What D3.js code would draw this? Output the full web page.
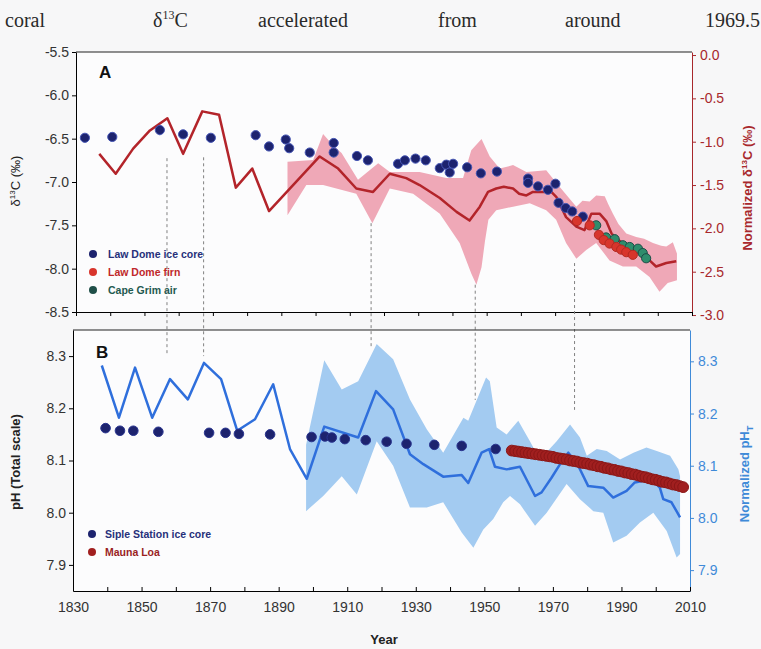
<!DOCTYPE html>
<html>
<head>
<meta charset="utf-8">
<script src="https://cdn.jsdelivr.net/npm/d3@7"></script>
<style>
  html, body { margin: 0; padding: 0; background: #f7f7f8; }
  svg { display: block; font-family: Arial, "Liberation Sans", sans-serif; }
</style>
</head>
<body>
<svg id="chart" width="761" height="649"></svg>
<script>
// ---- data ----
// Panel A, left axis (delta13C, permil)
const lawDomeIce = [
  [1832.6, -6.49], [1840.6, -6.48], [1854.5, -6.40], [1861.3, -6.45], [1869.4, -6.49],
  [1882.5, -6.46], [1886.4, -6.59], [1891.3, -6.51], [1892.3, -6.61], [1898.3, -6.66],
  [1905.3, -6.55], [1905.3, -6.66], [1912.1, -6.70], [1915.3, -6.75], [1924.1, -6.79],
  [1926.1, -6.75], [1929.2, -6.73], [1932.2, -6.75], [1936.3, -6.84], [1938.2, -6.80],
  [1939.2, -6.89], [1940.2, -6.79], [1944.3, -6.83], [1948.3, -6.90], [1953.0, -6.88],
  [1962.1, -6.96], [1962.1, -7.01], [1965.0, -7.05], [1967.9, -7.09], [1970.1, -7.02],
  [1971.0, -7.24], [1973.1, -7.30], [1975.0, -7.34], [1978.1, -7.40]
];
const lawDomeFirn = [
  [1976.4, -7.45], [1980.1, -7.50], [1982.8, -7.61], [1984.2, -7.67], [1985.9, -7.71],
  [1987.9, -7.75], [1989.3, -7.78], [1990.8, -7.81], [1992.7, -7.84]
];
const capeGrim = [
  [1982.0, -7.50], [1984.9, -7.64], [1987.4, -7.66], [1989.8, -7.73], [1991.8, -7.75],
  [1994.2, -7.77], [1995.6, -7.82], [1996.6, -7.88]
];
// Panel A, right axis (normalized delta13C)
const normD13C = [
  [1836.8, -1.14], [1841.6, -1.37], [1846.7, -1.08], [1851.6, -0.87], [1856.7, -0.73],
  [1861.3, -1.14], [1866.9, -0.65], [1871.8, -0.69], [1876.7, -1.53], [1881.5, -1.31],
  [1886.4, -1.80], [1901.2, -1.17], [1906.6, -1.31], [1911.9, -1.54], [1916.8, -1.58],
  [1921.7, -1.37], [1926.5, -1.42], [1930.4, -1.50], [1936.3, -1.65], [1941.2, -1.81],
  [1945.0, -1.91], [1948.0, -1.75], [1950.4, -1.58], [1952.8, -1.54], [1955.0, -1.52],
  [1957.7, -1.54], [1959.5, -1.60], [1961.6, -1.62], [1963.5, -1.58], [1965.5, -1.58],
  [1968.9, -1.58], [1970.4, -1.64], [1973.2, -1.87], [1976.2, -1.98], [1978.6, -2.02],
  [1980.6, -1.83], [1983.0, -1.83], [1985.0, -1.92], [1986.5, -2.06], [1989.0, -2.15],
  [1992.0, -2.22], [1995.0, -2.30], [1997.6, -2.37], [1999.5, -2.44], [2002.5, -2.40],
  [2005.4, -2.38]
];
const normD13CTop = [
  [1891.8, -1.23], [1899.3, -1.21], [1902.2, -0.91], [1905.1, -1.04], [1907.6, -1.13],
  [1912.4, -1.44], [1918.3, -1.25], [1921.7, -1.35], [1930.4, -1.35], [1938.2, -1.42],
  [1943.1, -1.42], [1945.5, -1.10], [1948.5, -0.97], [1950.9, -1.17], [1953.8, -1.31],
  [1957.7, -1.27], [1961.6, -1.35], [1967.4, -1.33], [1971.3, -1.52], [1976.2, -1.75],
  [1978.0, -1.68], [1980.1, -1.69], [1982.0, -1.62], [1984.5, -1.63], [1985.5, -1.72],
  [1986.9, -1.83], [1988.5, -1.95], [1990.8, -2.06], [1993.7, -2.10], [1996.0, -2.12],
  [1998.6, -2.17], [2001.0, -2.20], [2002.5, -2.21], [2004.4, -2.16], [2005.6, -2.29]
];
const normD13CBottom = [
  [1891.8, -1.85], [1897.3, -1.50], [1902.2, -1.50], [1911.9, -1.60], [1916.6, -1.94],
  [1921.7, -1.54], [1928.5, -1.60], [1936.3, -1.83], [1942.1, -2.17], [1945.5, -2.52],
  [1947.0, -2.65], [1948.5, -2.45], [1949.5, -2.15], [1950.5, -1.90], [1952.8, -1.79],
  [1957.7, -1.75], [1962.6, -1.71], [1967.4, -1.79], [1970.3, -1.90], [1973.2, -2.17],
  [1976.2, -2.35], [1979.1, -2.25], [1982.0, -2.17], [1985.9, -2.37], [1989.8, -2.44],
  [1993.7, -2.44], [1997.6, -2.56], [2000.5, -2.73], [2002.9, -2.63], [2005.6, -2.60]
];

// Panel B, left axis (pH total scale)
const sipleIce = [
  [1839.5, 8.162], [1843.7, 8.157], [1847.6, 8.157], [1854.9, 8.155], [1869.7, 8.153],
  [1874.5, 8.153], [1878.4, 8.151], [1887.5, 8.150], [1899.6, 8.145], [1903.5, 8.146],
  [1905.5, 8.144], [1909.3, 8.141], [1915.4, 8.139], [1921.5, 8.136], [1927.3, 8.132],
  [1935.4, 8.130], [1943.4, 8.128], [1953.3, 8.122]
];
const maunaLoaYears = d3.range(1958, 2009);
const maunaLoaPH = [
  8.119, 8.118, 8.117, 8.116, 8.115, 8.114, 8.113, 8.112, 8.111, 8.110,
  8.109, 8.108, 8.107, 8.105, 8.104, 8.103, 8.102, 8.100, 8.099, 8.098,
  8.096, 8.095, 8.094, 8.092, 8.091, 8.089, 8.088, 8.086, 8.085, 8.083,
  8.082, 8.080, 8.079, 8.077, 8.076, 8.074, 8.073, 8.071, 8.069, 8.068,
  8.066, 8.064, 8.063, 8.061, 8.059, 8.058, 8.056, 8.054, 8.053, 8.051, 8.049
];
// Panel B, right axis (normalized pH_T)
const normPH = [
  [1838.4, 8.292], [1843.4, 8.192], [1848.1, 8.288], [1853.1, 8.192], [1858.3, 8.266],
  [1863.5, 8.227], [1868.2, 8.297], [1873.2, 8.266], [1877.9, 8.167], [1883.1, 8.189],
  [1888.4, 8.256], [1893.3, 8.132], [1898.2, 8.075], [1903.3, 8.175], [1913.2, 8.154],
  [1918.4, 8.243], [1923.4, 8.208], [1928.3, 8.122], [1932.2, 8.103], [1938.0, 8.079],
  [1943.4, 8.082], [1945.3, 8.067], [1949.2, 8.125], [1951.4, 8.132], [1953.1, 8.098],
  [1956.5, 8.093], [1960.4, 8.098], [1964.8, 8.042], [1966.7, 8.049], [1969.6, 8.077],
  [1972.1, 8.103], [1974.5, 8.125], [1977.4, 8.100], [1980.3, 8.061], [1984.7, 8.058],
  [1987.6, 8.039], [1991.5, 8.052], [1993.9, 8.068], [1996.4, 8.071], [1999.3, 8.071],
  [2001.2, 8.058], [2002.2, 8.036], [2004.6, 8.030], [2007.1, 8.001]
];
const normPHTop = [
  [1898.0, 8.140], [1903.3, 8.302], [1908.4, 8.246], [1913.2, 8.262], [1918.6, 8.333],
  [1923.4, 8.304], [1928.3, 8.227], [1933.2, 8.170], [1938.0, 8.125], [1943.9, 8.192],
  [1945.3, 8.186], [1950.5, 8.269], [1951.6, 8.262], [1953.6, 8.173], [1956.5, 8.160],
  [1959.9, 8.186], [1963.3, 8.147], [1966.2, 8.112], [1971.1, 8.147], [1975.0, 8.179],
  [1977.9, 8.154], [1979.9, 8.119], [1982.8, 8.132], [1985.7, 8.128], [1989.6, 8.112],
  [1993.5, 8.125], [1997.3, 8.135], [2000.3, 8.128], [2004.2, 8.119], [2006.6, 8.093],
  [2007.1, 8.080]
];
const normPHBottom = [
  [1898.0, 8.013], [1903.0, 8.042], [1908.4, 8.080], [1912.8, 8.045], [1918.6, 8.147],
  [1923.4, 8.100], [1928.3, 8.020], [1933.2, 8.020], [1938.0, 8.030], [1943.4, 7.972],
  [1946.8, 7.943], [1949.7, 7.978], [1952.6, 7.998], [1955.5, 8.030], [1957.5, 8.042],
  [1960.4, 8.026], [1964.8, 7.985], [1968.2, 8.010], [1974.0, 8.065], [1977.9, 8.036],
  [1981.8, 8.013], [1984.7, 8.010], [1987.6, 7.953], [1991.5, 7.966], [1995.4, 7.991],
  [1999.3, 8.010], [2003.2, 7.975], [2006.1, 7.924], [2007.1, 7.931]
];

// dashed guide lines: year, start (panel A right units), end (panel B left units)
const guideYears = [1857.0, 1867.7, 1916.6, 1947.0, 1976.0];
const guideFromA = [-1.19, -1.18, -1.94, -2.65, -2.40];
const guideToB = [8.300, 8.300, 8.317, 8.216, 8.197];

const yTicksA = [-5.5, -6.0, -6.5, -7.0, -7.5, -8.0, -8.5];
const yTicksAr = [0.0, -0.5, -1.0, -1.5, -2.0, -2.5, -3.0];
const yTicksB = [7.9, 8.0, 8.1, 8.2, 8.3];
const xLabelTicks = d3.range(1830, 2011, 20);
const xMinorTicks = d3.range(1830, 2011, 10);

const captionWords = ['coral', 'd13C', 'accelerated', 'from', 'around', '1969.5'];

(function () {
  const svg = d3.select('#chart');

  // scales
  const xA = d3.scaleLinear().domain([1830, 2010]).range([76, 692]);
  const yA = d3.scaleLinear().domain([-8.5, -5.5]).range([312, 52]);
  const yAr = d3.scaleLinear().domain([-2.965, 0.035]).range([312, 52]);
  const xB = d3.scaleLinear().domain([1830, 2010]).range([73, 690]);
  const yB = d3.scaleLinear().domain([7.85, 8.35]).range([591, 330]);
  const yBr = d3.scaleLinear().domain([7.86, 8.36]).range([591, 330]);

  const darkRed = '#a8282c', blue = '#3f8ad8';
  const fmt = d => d.toFixed(1);

  // caption line (justified words)
  const capX = [5, 153, 258, 438, 565, 705];
  const cap = svg.append('g').attr('font-family', '"Liberation Serif", "Times New Roman", serif')
    .attr('font-size', 20).attr('fill', '#2a2a2a');
  captionWords.forEach((w, i) => {
    const t = cap.append('text').attr('x', capX[i]).attr('y', 27);
    if (w === 'd13C') {
      t.append('tspan').text('δ');
      t.append('tspan').attr('font-size', 12).attr('dy', -8).text('13');
      t.append('tspan').attr('dy', 8).text('C');
    } else t.text(w);
  });

  // ---------- Panel A ----------
  const gA = svg.append('g');
  gA.append('rect').attr('x', xA(1830)).attr('y', yA(-5.5))
    .attr('width', xA(2010) - xA(1830)).attr('height', yA(-8.5) - yA(-5.5)).attr('fill', '#fcfcfd');

  const lineAr = d3.line().x(d => xA(d[0])).y(d => yAr(d[1]));
  gA.append('path')
    .attr('d', lineAr(normD13CTop.concat(normD13CBottom.slice().reverse())) + 'Z')
    .attr('fill', '#efa8b7');

  // dashed guides
  const guides = svg.append('g');
  guideYears.forEach((yr, i) => {
    guides.append('line')
      .attr('x1', (xA(yr) + xB(yr)) / 2).attr('x2', (xA(yr) + xB(yr)) / 2)
      .attr('y1', yAr(guideFromA[i])).attr('y2', yB(guideToB[i]))
      .attr('stroke', '#808080').attr('stroke-width', 1).attr('stroke-dasharray', '3,3');
  });

  gA.append('path').datum(normD13C).attr('d', lineAr)
    .attr('fill', 'none').attr('stroke', '#b3242a').attr('stroke-width', 2.5).attr('stroke-linejoin', 'round');

  function dots(g, data, xs, ys, r, fill, stroke) {
    g.append('g').selectAll('circle').data(data).join('circle')
      .attr('cx', d => xs(d[0])).attr('cy', d => ys(d[1])).attr('r', r)
      .attr('fill', fill).attr('stroke', stroke).attr('stroke-width', 1);
  }
  // small error bar on the 1854.5 ice-core sample
  gA.append('line').attr('x1', xA(1854.5)).attr('x2', xA(1854.5))
    .attr('y1', yA(-6.34)).attr('y2', yA(-6.46)).attr('stroke', '#4656b4').attr('stroke-width', 1.2);
  dots(gA, lawDomeIce, xA, yA, 4.6, '#1d236e', '#4656b4');
  dots(gA, capeGrim, xA, yA, 4.6, '#2f8d6c', '#1c4c46');
  dots(gA, lawDomeFirn, xA, yA, 4.6, '#d8352c', '#b32a22');

  // frame + axes A
  gA.append('line').attr('x1', xA(1830)).attr('x2', xA(2010)).attr('y1', yA(-5.5)).attr('y2', yA(-5.5))
    .attr('stroke', '#222').attr('stroke-width', 1.2);
  gA.append('g').attr('transform', `translate(${xA(1830)},0)`)
    .call(d3.axisLeft(yA).tickValues(yTicksA).tickFormat(fmt).tickSize(4).tickSizeOuter(0).tickPadding(3));
  const axAr = gA.append('g').attr('transform', `translate(${xA(2010)},0)`)
    .call(d3.axisRight(yAr).tickValues(yTicksAr).tickFormat(fmt).tickSize(4).tickSizeOuter(0).tickPadding(4));
  gA.append('g').attr('transform', `translate(0,${yA(-8.5)})`)
    .call(d3.axisBottom(xA).tickValues(xMinorTicks).tickFormat('').tickSize(4).tickSizeOuter(0));
  axAr.selectAll('.domain, line').attr('stroke', darkRed);
  axAr.selectAll('text').attr('fill', darkRed);

  // legend A
  const legA = gA.append('g');
  legA.append('rect').attr('x', 86).attr('y', 243).attr('width', 124).attr('height', 58).attr('fill', '#fcfcfd');
  const legAItems = [['Law Dome ice core', '#1d236e', '#26307a'], ['Law Dome firn', '#d8352c', '#c0282a'], ['Cape Grim air', '#1f4f48', '#1f5a50']];
  legAItems.forEach((it, i) => {
    const y = 254 + i * 18;
    legA.append('circle').attr('cx', 93).attr('cy', y).attr('r', 4).attr('fill', it[1]);
    legA.append('text').attr('x', 108).attr('y', y + 4).attr('font-size', 10.5).attr('font-weight', 'bold')
      .attr('fill', it[2]).text(it[0]);
  });

  gA.append('text').attr('x', 99).attr('y', 78).attr('font-size', 17).attr('font-weight', 'bold').attr('fill', '#111').text('A');

  // ---------- Panel B ----------
  const gB = svg.append('g');
  gB.append('rect').attr('x', xB(1830)).attr('y', yB(8.35))
    .attr('width', xB(2010) - xB(1830)).attr('height', yB(7.85) - yB(8.35)).attr('fill', '#fcfcfd');
  svg.node().insertBefore(gB.node(), guides.node());

  const lineBr = d3.line().x(d => xB(d[0])).y(d => yBr(d[1]));
  gB.append('path')
    .attr('d', lineBr(normPHTop.concat(normPHBottom.slice().reverse())) + 'Z')
    .attr('fill', '#a3cbf1');
  const gB2 = svg.append('g');
  gB2.append('path').datum(normPH).attr('d', lineBr)
    .attr('fill', 'none').attr('stroke', '#2f6fdc').attr('stroke-width', 2.5).attr('stroke-linejoin', 'round');
  dots(gB2, sipleIce, xB, yB, 4.8, '#1d236e', '#2a3590');
  dots(gB2, maunaLoaYears.map((yr, i) => [yr, maunaLoaPH[i]]), xB, yB, 5.4, '#a11f1f', '#8a1717');

  gB2.append('line').attr('x1', xB(1830)).attr('x2', xB(2010)).attr('y1', yB(8.35)).attr('y2', yB(8.35))
    .attr('stroke', '#222').attr('stroke-width', 1.2);
  gB2.append('g').attr('transform', `translate(${xB(1830)},0)`)
    .call(d3.axisLeft(yB).tickValues(yTicksB).tickFormat(fmt).tickSize(4).tickSizeOuter(0).tickPadding(3));
  const axBr = gB2.append('g').attr('transform', `translate(${xB(2010)},0)`)
    .call(d3.axisRight(yBr).tickValues(yTicksB).tickFormat(fmt).tickSize(4).tickSizeOuter(0).tickPadding(4));
  axBr.selectAll('.domain, line').attr('stroke', blue);
  axBr.selectAll('text').attr('fill', blue);
  gB2.append('g').attr('transform', `translate(0,${yB(7.85)})`)
    .call(d3.axisBottom(xB).tickValues(xMinorTicks).tickFormat('').tickSize(-4).tickSizeOuter(0));
  gB2.append('g').attr('transform', `translate(0,${yB(7.85)})`)
    .call(d3.axisBottom(xB).tickValues(xLabelTicks).tickSize(0).tickPadding(11).tickFormat(d3.format('d')))
    .select('.domain').remove();

  // legend B
  const legBItems = [['Siple Station ice core', '#1d236e', '#26307a'], ['Mauna Loa', '#a11f1f', '#9a1f1f']];
  legBItems.forEach((it, i) => {
    const y = 534 + i * 18;
    gB2.append('circle').attr('cx', 92).attr('cy', y).attr('r', 4).attr('fill', it[1]);
    gB2.append('text').attr('x', 105).attr('y', y + 4).attr('font-size', 10.5).attr('font-weight', 'bold')
      .attr('fill', it[2]).text(it[0]);
  });
  gB2.append('text').attr('x', 96).attr('y', 358).attr('font-size', 17).attr('font-weight', 'bold').attr('fill', '#111').text('B');

  // tick label styling
  svg.selectAll('.tick text').attr('font-size', 14).attr('font-family', 'Arial, "Liberation Sans", sans-serif');
  svg.selectAll('.tick text').filter(function () { return !this.getAttribute('fill') || this.getAttribute('fill') === 'currentColor'; })
    .attr('fill', '#333');

  // axis titles
  const tl = svg.append('text').attr('transform', 'translate(20,181) rotate(-90)')
    .attr('text-anchor', 'middle').attr('font-size', 13).attr('fill', '#222');
  tl.append('tspan').text('δ');
  tl.append('tspan').attr('font-size', 8).attr('dy', -5).text('13');
  tl.append('tspan').attr('dy', 5).text('C (‰)');

  const tr = svg.append('text').attr('transform', 'translate(752,188) rotate(-90)')
    .attr('text-anchor', 'middle').attr('font-size', 13).attr('font-weight', 'bold').attr('fill', darkRed);
  tr.append('tspan').text('Normalized δ');
  tr.append('tspan').attr('font-size', 8).attr('dy', -5).text('13');
  tr.append('tspan').attr('dy', 5).text('C (‰)');

  svg.append('text').attr('transform', 'translate(20,462) rotate(-90)')
    .attr('text-anchor', 'middle').attr('font-size', 13).attr('font-weight', 'bold').attr('fill', '#222')
    .text('pH (Total scale)');

  const br = svg.append('text').attr('transform', 'translate(749,474) rotate(-90)')
    .attr('text-anchor', 'middle').attr('font-size', 13).attr('font-weight', 'bold').attr('fill', blue);
  br.append('tspan').text('Normalized pH');
  br.append('tspan').attr('font-size', 9).attr('dy', 4).text('T');

  svg.append('text').attr('x', 384).attr('y', 644).attr('text-anchor', 'middle')
    .attr('font-size', 13).attr('font-weight', 'bold').attr('fill', '#222').text('Year');
})();
</script>
</body>
</html>
